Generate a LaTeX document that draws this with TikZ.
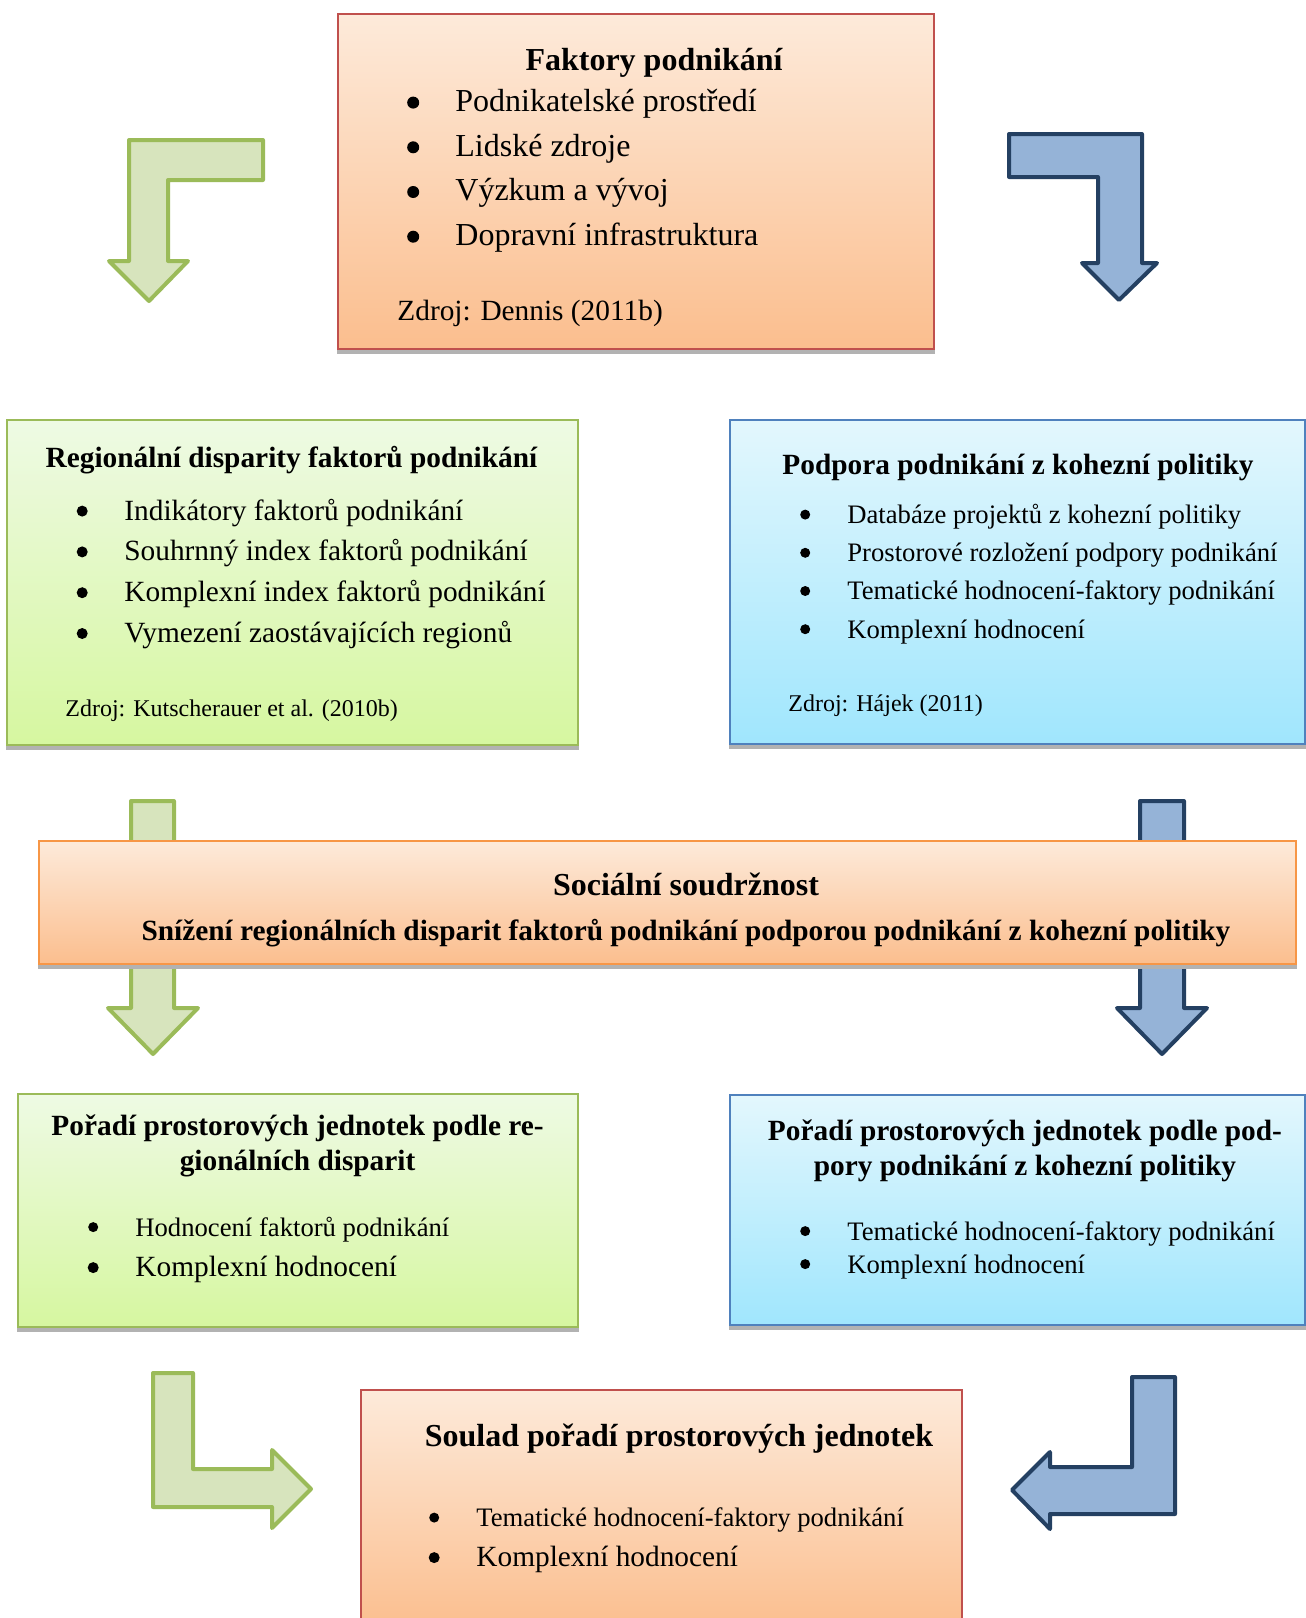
\documentclass[tikz,border=0pt]{standalone}
\usepackage{fontspec}
\setmainfont{Liberation Serif}
\usetikzlibrary{fit}

\definecolor{oTop}{RGB}{253,234,218}
\definecolor{oBot}{RGB}{251,190,142}
\definecolor{oLine}{RGB}{192,80,77}
\definecolor{oLineB}{RGB}{247,150,70}
\definecolor{gTop}{RGB}{238,250,228}
\definecolor{gBot}{RGB}{214,247,160}
\definecolor{gLine}{RGB}{155,187,89}
\definecolor{bTop}{RGB}{227,247,253}
\definecolor{bBot}{RGB}{160,230,253}
\definecolor{bLine}{RGB}{79,129,189}
\definecolor{gArr}{RGB}{215,228,189}
\definecolor{bArr}{RGB}{149,179,215}
\definecolor{bArrLine}{RGB}{36,64,98}

\begin{document}
\begin{tikzpicture}[x=0.5pt,y=-0.5pt,
		box/.style={draw,line width=1pt,inner sep=0pt},
		obox/.style={box,draw=oLine,top color=oTop,bottom color=oBot},
		gbox/.style={box,draw=gLine,top color=gTop,bottom color=gBot},
		bbox/.style={box,draw=bLine,top color=bTop,bottom color=bBot},
		garrow/.style={draw=gLine,fill=gArr,line width=2pt,line join=round},
		barrow/.style={draw=bArrLine,fill=bArr,line width=2pt,line join=round},
		bbig/.style={inner sep=0pt,font=\fontsize{16pt}{19pt}\selectfont\bfseries},
		mbold/.style={inner sep=0pt,font=\fontsize{14.67pt}{17.5pt}\selectfont\bfseries},
		big/.style={font=\fontsize{16pt}{19pt}\selectfont},
		med/.style={font=\fontsize{14.67pt}{17.5pt}\selectfont},
		sml/.style={font=\fontsize{13.33pt}{16pt}\selectfont},
		tny/.style={font=\fontsize{12pt}{14pt}\selectfont},
		li/.style={anchor=mid west,inner sep=0pt}]
	\useasboundingbox (0,0) rectangle (1306,1618);

	% arrows
	\draw[garrow] (263,140) -- (129,140) -- (129,261) -- (109,261) -- (149,301)
		-- (188,261) -- (168,261) -- (168,180) -- (263,180) -- cycle;
	\draw[barrow] (1009,134) -- (1142,134) -- (1142,263) -- (1157,263) -- (1119,300)
		-- (1082,263) -- (1098,263) -- (1098,177) -- (1009,177) -- cycle;
	\draw[garrow] (131,801) -- (174,801) -- (174,1008) -- (198,1008) -- (153,1054)
		-- (108,1008) -- (131,1008) -- cycle;
	\draw[barrow] (1140,801) -- (1184,801) -- (1184,1008) -- (1207,1008) -- (1162,1054)
		-- (1117,1008) -- (1140,1008) -- cycle;
	\draw[garrow] (153,1373) -- (193,1373) -- (193,1469) -- (272,1469) -- (272,1450)
		-- (311,1489) -- (272,1528) -- (272,1507) -- (153,1507) -- cycle;
	\draw[barrow] (1175,1377) -- (1132,1377) -- (1132,1467) -- (1050,1467) -- (1050,1452)
		-- (1012,1490) -- (1050,1529) -- (1050,1514) -- (1175,1514) -- cycle;

	% boxes
	\node[obox,fit={(338,14) (934,349)}] (fak) {};
	\node[gbox,fit={(7,420) (578,745)}] (reg) {};
	\node[bbox,fit={(730,420) (1305,744)}] (pod) {};
	\node[obox,draw=oLineB,fit={(39,841) (1296,964)}] (soc) {};
	\node[gbox,fit={(18,1094) (578,1327)}] (por) {};
	\node[bbox,fit={(730,1095) (1305,1325)}] (pob) {};
	\node[obox,fit={(361,1390) (962,1630)}] (sou) {};
	\foreach \b in {fak,reg,pod,soc,por,pob}
		\fill[gray!60] (\b.south west) rectangle ([yshift=-2.2pt]\b.south east);

	% Faktory podnikani
	\node[bbig] (fakT) at (654,63) {Faktory podnikání};
	\foreach \t [count=\i] in {Podnikatelské prostředí,Lidské zdroje,Výzkum a vývoj,Dopravní infrastruktura}
		\node[big,li] (fak\i) at (455,{107+44.7*(\i-1)}) {\t};
	\node[med,li] (fakZ) at (397,316) {Zdroj: Dennis (2011b)};

	% regionalni disparity
	\node[mbold] (regT) at (291.5,460) {Regionální disparity faktorů podnikání};
	\foreach \t [count=\i] in {Indikátory faktorů podnikání,Souhrnný index faktorů podnikání,Komplexní index faktorů podnikání,Vymezení zaostávajících regionů}
		\node[med,li] (reg\i) at (124,{515.5+40.8*(\i-1)}) {\t};
	\node[tny,li] (regZ) at (65,712) {Zdroj: Kutscherauer et al. (2010b)};

	% podpora podnikani
	\node[mbold] (podT) at (1018,467) {Podpora podnikání z kohezní politiky};
	\foreach \t [count=\i] in {Databáze projektů z kohezní politiky,Prostorové rozložení podpory podnikání,Tematické hodnocení-faktory podnikání,Komplexní hodnocení}
		\node[sml,li] (pod\i) at (847,{519+38.2*(\i-1)}) {\t};
	\node[tny,li] (podZ) at (788,707) {Zdroj: Hájek (2011)};

	% socialni soudrznost
	\node[bbig] (socT) at (686,884) {Sociální soudržnost};
	\node[mbold] (socS) at (686,933) {Snížení regionálních disparit faktorů podnikání podporou podnikání z kohezní politiky};

	% poradi
	\node[mbold,align=center] (porT) at (297.6,1146) {Pořadí prostorových jednotek podle re-\\gionálních disparit};
	\node[sml,li] (por1) at (135,1231.5) {Hodnocení faktorů podnikání};
	\node[med,li] (por2) at (135,1272) {Komplexní hodnocení};

	\node[mbold,align=center] (pobT) at (1025,1151) {Pořadí prostorových jednotek podle pod-\\pory podnikání z kohezní politiky};
	\node[sml,li] (pob1) at (847,1235.5) {Tematické hodnocení-faktory podnikání};
	\node[sml,li] (pob2) at (847,1268.5) {Komplexní hodnocení};

	% soulad
	\node[bbig] (souT) at (679,1439) {Soulad pořadí prostorových jednotek};
	\node[sml,li] (sou1) at (476,1522) {Tematické hodnocení-faktory podnikání};
	\node[med,li] (sou2) at (476,1562) {Komplexní hodnocení};

	% bullets
	\foreach \n/\r in {fak1/3pt,fak2/3pt,fak3/3pt,fak4/3pt,
			reg1/2.75pt,reg2/2.75pt,reg3/2.75pt,reg4/2.75pt,
			pod1/2.5pt,pod2/2.5pt,pod3/2.5pt,pod4/2.5pt,
			por1/2.5pt,por2/2.75pt,pob1/2.5pt,pob2/2.5pt,sou1/2.5pt,sou2/2.75pt}
		\fill ([xshift=-20.9pt,yshift=2.2pt]\n.mid west) circle (\r);
\end{tikzpicture}
\end{document}
